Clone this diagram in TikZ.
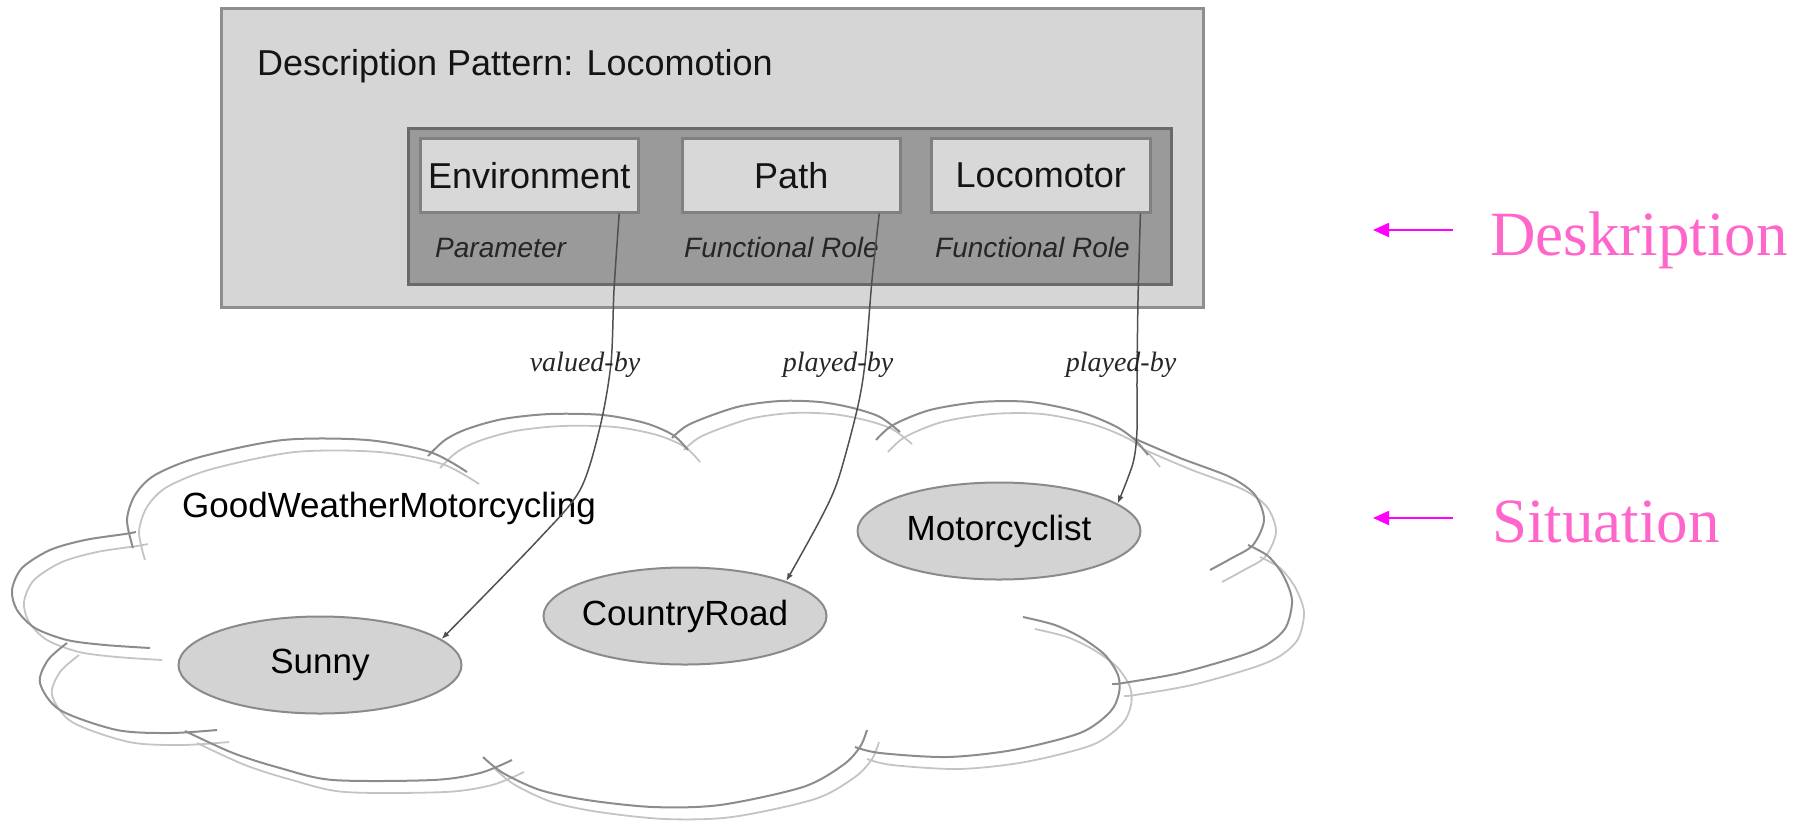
\documentclass[tikz,border=0pt]{standalone}
\usepackage{fontspec}
\setmainfont{Liberation Sans}
\newfontfamily\timesfont{Liberation Serif}
\usetikzlibrary{shapes.geometric,arrows.meta,calc}

\definecolor{panel}{HTML}{D6D6D6}
\definecolor{panelline}{HTML}{8E8E8E}
\definecolor{rolebg}{HTML}{9A9A9A}
\definecolor{roleline}{HTML}{6A6A6A}
\definecolor{slot}{HTML}{D8D8D8}
\definecolor{slotline}{HTML}{808080}
\definecolor{entity}{HTML}{D3D3D3}
\definecolor{entityline}{HTML}{8A8A8A}
\definecolor{cloudA}{HTML}{8C8C8C}
\definecolor{cloudB}{HTML}{C4C4C4}
\definecolor{linkgray}{HTML}{505050}
\definecolor{notepink}{HTML}{FF66CC}
\definecolor{notearrow}{HTML}{FF00FF}

\newcommand{\fsz}[1]{\fontsize{#1}{#1}\selectfont}

% the bumps of the situation cloud, each one an arc with its short inner tails
\newcommand{\cloudbumps}[1]{%
  \begin{scope}[#1]
    \draw plot[smooth] coordinates {(150,648) (105,645) (67,640) (35,628) (17,610) (12,590) (22,568) (50,550) (85,540) (125,534) (136,532)};
    \draw plot[smooth] coordinates {(133,548) (127,520) (135,495) (155,475) (200,457) (283,440) (367,440) (430,452) (467,472)};
    \draw plot[smooth] coordinates {(428,456) (445,440) (467,429) (503,419) (550,414) (603,415) (645,423) (673,435) (688,450)};
    \draw plot[smooth] coordinates {(672,438) (690,424) (737,407) (780,401) (820,402) (853,408) (880,417) (900,432)};
    \draw plot[smooth] coordinates {(876,440) (893,425) (930,410) (980,402) (1030,402) (1080,412) (1115,426) (1135,440) (1148,455)};
    \draw plot[smooth] coordinates {(1133,438) (1180,458) (1230,477) (1255,495) (1264,520) (1253,545) (1232,558) (1210,570)};
    \draw plot[smooth] coordinates {(1248,545) (1268,556) (1283,575) (1292,600) (1286,627) (1268,644) (1240,656) (1180,673) (1123,683) (1112,684)};
    \draw plot[smooth] coordinates {(1023,617) (1055,625) (1082,638) (1105,655) (1118,675) (1119,693) (1110,712) (1080,733) (1013,750) (947,757) (880,753) (855,747)};
    \draw plot[smooth] coordinates {(483,757) (503,773) (540,790) (587,800) (653,807) (720,805) (803,787) (843,765) (860,747) (867,730)};
    \draw plot[smooth] coordinates {(185,731) (233,753) (280,768) (333,780) (433,780) (480,773) (512,760)};
    \draw plot[smooth] coordinates {(67,643) (48,660) (40,683) (60,710) (117,730) (170,733) (217,730)};
  \end{scope}}

\begin{document}
\begin{tikzpicture}[x=1pt,y=-1pt,
  panelbox/.style={draw=panelline,fill=panel,line width=3pt,inner sep=0pt,anchor=north west},
  rolebox/.style={draw=roleline,fill=rolebg,line width=3pt,inner sep=0pt,anchor=north west},
  slotbox/.style={draw=slotline,fill=slot,line width=2.5pt,inner sep=0pt,anchor=north west,
                  minimum width=218pt,minimum height=74pt,font=\fsz{36},text=black!92},
  kindlabel/.style={anchor=base west,inner sep=0pt,font=\fsz{28}\itshape,text=black!85},
  entitynode/.style={ellipse,draw=entityline,fill=entity,line width=2pt,inner sep=0pt,
                     minimum width=283pt,minimum height=97pt,font=\fsz{35},text=black},
  linklabel/.style={anchor=base,inner sep=0pt,font=\timesfont\fsz{28}\itshape,text=black!85},
  link/.style={draw=linkgray,line width=1.5pt,-{Latex[length=8pt,width=6pt]}},
  cloudouter/.style={draw=cloudA,line width=2pt},
  cloudshadow/.style={draw=cloudB,line width=1.8pt},
  note/.style={anchor=base west,inner sep=0pt,font=\timesfont\fsz{63},text=notepink},
  notelink/.style={draw=notearrow,line width=2pt,-{Triangle[length=16pt,width=14pt]}}]

\useasboundingbox (0,0) rectangle (1806,820);

% description pattern
\node[panelbox,minimum width=982pt,minimum height=299pt] (dp) at (220,7) {};
\node[anchor=base west,inner sep=0pt,font=\fsz{36},text=black!92] (title) at (257,75)
  {Description Pattern: Locomotion};
\node[rolebox,minimum width=763pt,minimum height=156pt] (roles) at (407,127) {};
\node[slotbox] (env)  at (419,137) {Environment};
\node[slotbox] (path) at (681,137) {Path};
\node[slotbox,minimum width=219pt] (loco) at (930,137) {Locomotor};
\node[kindlabel] (kenv)  at (435,257) {Parameter};
\node[kindlabel] (kpath) at (684,257) {Functional Role};
\node[kindlabel] (kloco) at (935,257) {Functional Role};

% situation cloud
\cloudbumps{cloudshadow,shift={(12,12)}}
\cloudbumps{cloudouter}
\node[anchor=base west,inner sep=0pt,font=\fsz{35},text=black] (sit) at (182,517)
  {GoodWeatherMotorcycling};
\node[entitynode] (sunny) at (320,665) {\makebox[0pt][c]{Sunny}};
\node[entitynode] (road)  at (685,616) {\makebox[0pt][c]{CountryRoad}};
\node[entitynode] (rider) at (999,531) {\makebox[0pt][c]{Motorcyclist}};

% role bindings
\coordinate (e1) at ($(env.south west)!0.908!(env.south east)$);
\coordinate (p1) at ($(path.south west)!0.899!(path.south east)$);
\coordinate (l1) at ($(loco.south west)!0.95!(loco.south east)$);
\draw[link] plot[smooth] coordinates {(e1) (614,290) (611,363) (600,427) (580,490) (538,540) (sunny.12)};
\draw[link] plot[smooth] coordinates {(p1) (872,280) (865,363) (857,410) (838,480) (820,520) (road.19)};
\draw[link] plot[smooth] coordinates {(l1) (1138,300) (1137,380) (1137,430) (1133,463) (rider.13)};
\node[linklabel] (lv)  at (585,371)  {valued-by};
\node[linklabel] (lp1) at (838,371)  {played-by};
\node[linklabel] (lp2) at (1121,371) {played-by};

% side notes
\node[note] (desk) at (1490,255) {Deskription};
\node[note] (situ) at (1492,542) {Situation};
\coordinate (dtail) at (1453,230);
\coordinate (dhead) at (1373,230);
\coordinate (stail) at (1453,518);
\coordinate (shead) at (1373,518);
\draw[notelink] (dtail) -- (dhead);
\draw[notelink] (stail) -- (shead);
\end{tikzpicture}
\end{document}
